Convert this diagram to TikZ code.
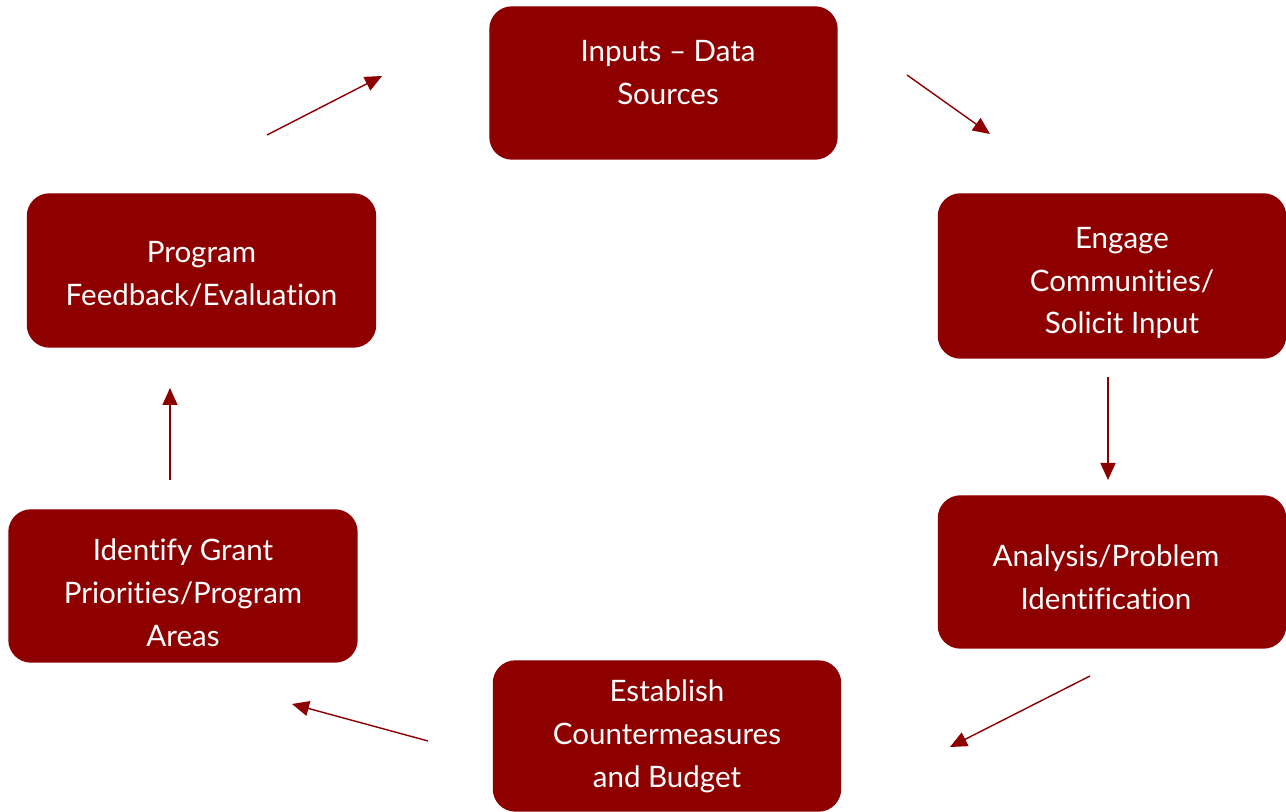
\documentclass[tikz,border=0pt]{standalone}
\usepackage{fontspec}
\setmainfont{Lato}[Ligatures=NoCommon]
\usepackage{xcolor}
\usetikzlibrary{arrows.meta}
\definecolor{darkred}{RGB}{142,0,0}

\begin{document}
\begin{tikzpicture}[
	stepbox/.style={fill=darkred, draw=darkred, rounded corners=0.22cm, minimum width=3.47cm, minimum height=1.52cm, inner sep=0pt},
	steptext/.style={text=white, align=center, inner sep=0pt, font=\fontsize{8.4}{12.2}\selectfont},
	flow/.style={-{Triangle[length=0.17cm, width=0.15cm]}, darkred, line width=0.4pt}
]
				\useasboundingbox (0,0) rectangle (12.86,-8.12);
				\node[stepbox, label={[steptext, xshift=0.045cm, yshift=0.105cm]center:{Inputs -- Data\\Sources}}] (A) at (6.635,-0.83){};
				\node[stepbox, minimum height=1.64cm, label={[steptext, xshift=0.1cm, yshift=-0.07cm]center:{Engage\\Communities/\\Solicit Input}}] (B) at (11.12,-2.76){};
				\node[stepbox, label={[steptext, xshift=-0.06cm, yshift=-0.055cm]center:{Analysis/Problem\\Identification}}] (C) at (11.12,-5.72){};
				\node[stepbox, minimum height=1.50cm, label={[steptext]center:{Establish\\Countermeasures\\and Budget}}] (D) at (6.67,-7.36){};
				\node[stepbox, minimum width=3.48cm, label={[steptext, yshift=-0.07cm]center:{Identify Grant\\Priorities/Program\\Areas}}] (E) at (1.83,-5.86){};
				\node[stepbox, minimum width=3.48cm, minimum height=1.53cm, label={[steptext, yshift=-0.04cm]center:{Program\\Feedback/Evaluation}}] (F) at (2.015,-2.705){};
				\coordinate (a1) at (2.67,-1.35);
				\coordinate (a2) at (3.82,-0.76);
				\coordinate (b1) at (9.07,-0.75);
				\coordinate (b2) at (9.90,-1.34);
				\coordinate (c1) at (11.08,-3.77);
				\coordinate (c2) at (11.08,-4.80);
				\coordinate (d1) at (10.90,-6.76);
				\coordinate (d2) at (9.50,-7.47);
				\coordinate (e1) at (4.28,-7.41);
				\coordinate (e2) at (2.92,-7.04);
				\coordinate (f1) at (1.70,-4.80);
				\coordinate (f2) at (1.70,-3.88);
				\draw[flow] (a1) -- (a2);
				\draw[flow] (b1) -- (b2);
				\draw[flow] (c1) -- (c2);
				\draw[flow] (d1) -- (d2);
				\draw[flow] (e1) -- (e2);
				\draw[flow] (f1) -- (f2);
\end{tikzpicture}
\end{document}
